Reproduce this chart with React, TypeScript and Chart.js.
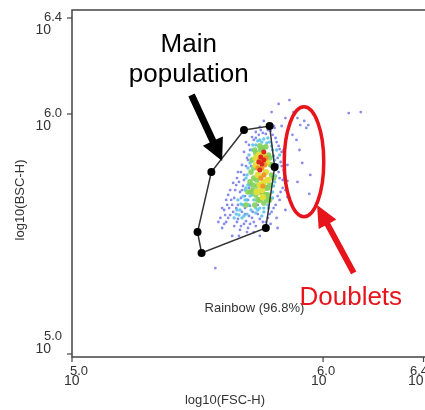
import { useEffect, useRef } from "react";
import { Chart, registerables } from "chart.js";
Chart.register(...registerables);

// axis ranges (log10 units) and ticks
const xRange = [5.0, 6.39];
const yRange = [4.9875, 6.4333];
const xTicks = [5.0, 6.0, 6.4];
const yTicks = [5.0, 6.0, 6.4];
const xTitle = "log10(FSC-H)";
const yTitle = "log10(BSC-H)";

// gate polygon vertices [FSC, BSC]
const gatePts: [number, number][] = [
  [5.685, 5.933], [5.787, 5.95], [5.807, 5.779], [5.772, 5.525],
  [5.516, 5.421], [5.5, 5.508], [5.555, 5.758],
];
const gateLabel = "Rainbow (96.8%)";

// density layers (low -> high density)
const bluePts: [number, number][] = [
  [5.614, 5.55], [5.63, 5.579], [5.606, 5.6], [5.646, 5.533], [5.661, 5.563], [5.654, 5.608],
  [5.634, 5.642], [5.669, 5.517], [5.685, 5.542], [5.701, 5.525], [5.689, 5.583], [5.673, 5.65],
  [5.65, 5.683], [5.665, 5.717], [5.685, 5.746], [5.677, 5.788], [5.697, 5.817], [5.709, 5.85],
  [5.693, 5.883], [5.717, 5.904], [5.732, 5.925], [5.752, 5.933], [5.772, 5.917], [5.791, 5.929],
  [5.811, 5.9], [5.823, 5.867], [5.835, 5.842], [5.831, 5.8], [5.843, 5.767], [5.827, 5.733],
  [5.839, 5.692], [5.819, 5.658], [5.811, 5.621], [5.795, 5.592], [5.78, 5.567], [5.76, 5.55],
  [5.732, 5.533], [5.717, 5.567], [5.74, 5.583], [5.709, 5.617], [5.689, 5.658], [5.705, 5.692],
  [5.681, 5.7], [5.661, 5.758], [5.642, 5.713], [5.622, 5.663], [5.618, 5.621], [5.591, 5.567],
  [5.598, 5.525], [5.724, 5.508], [5.748, 5.492], [5.638, 5.492], [5.803, 5.95], [5.783, 5.958],
  [5.764, 5.971], [5.85, 5.892], [5.846, 5.808], [5.858, 5.721], [5.815, 5.567], [5.713, 5.783],
  [5.74, 5.621],
  [5.61, 5.579], [5.626, 5.608], [5.642, 5.592], [5.657, 5.55], [5.673, 5.533], [5.693, 5.554],
  [5.709, 5.542], [5.677, 5.592], [5.661, 5.621], [5.646, 5.65], [5.63, 5.683], [5.654, 5.704],
  [5.669, 5.675], [5.685, 5.725], [5.673, 5.758], [5.693, 5.783], [5.701, 5.808], [5.685, 5.842],
  [5.705, 5.871], [5.724, 5.892], [5.744, 5.913], [5.76, 5.921], [5.78, 5.933], [5.799, 5.913],
  [5.815, 5.883], [5.827, 5.854], [5.819, 5.817], [5.835, 5.783], [5.823, 5.758], [5.839, 5.725],
  [5.831, 5.675], [5.827, 5.642], [5.803, 5.608], [5.787, 5.583], [5.772, 5.55], [5.748, 5.563],
  [5.724, 5.55], [5.705, 5.575], [5.689, 5.608], [5.72, 5.592], [5.701, 5.642], [5.677, 5.683],
  [5.657, 5.733], [5.638, 5.621], [5.614, 5.642], [5.622, 5.567], [5.606, 5.542], [5.697, 5.508],
  [5.665, 5.492], [5.764, 5.525], [5.791, 5.542], [5.85, 5.683], [5.843, 5.85], [5.807, 5.942],
  [5.748, 5.946], [5.732, 5.9], [5.846, 5.733], [5.858, 5.788], [5.598, 5.608], [5.583, 5.55],
  // sparse events outside the main cloud
  [5.866, 6.058], [5.882, 6.008], [5.898, 5.983], [5.909, 5.954], [5.925, 5.971], [5.933, 5.942],
  [5.941, 5.954], [5.894, 5.892], [5.906, 5.85], [5.917, 5.796], [5.949, 5.746], [5.945, 5.667],
  [5.898, 5.717], [6.102, 6.004], [6.15, 6.008], [5.571, 5.358], [5.823, 6.042], [5.85, 5.983],
  [5.878, 5.913], [5.795, 6.008], [5.835, 5.95], [5.858, 5.654], [5.85, 5.6], [5.819, 5.525],
];
const cyanPts: [number, number][] = [
  [5.681, 5.621], [5.697, 5.642], [5.669, 5.6], [5.654, 5.583], [5.709, 5.658], [5.724, 5.642],
  [5.748, 5.608], [5.764, 5.592], [5.78, 5.621], [5.799, 5.65], [5.803, 5.7], [5.811, 5.742],
  [5.807, 5.808], [5.799, 5.85], [5.787, 5.883], [5.764, 5.896], [5.74, 5.888], [5.72, 5.871],
  [5.705, 5.829], [5.701, 5.775], [5.693, 5.733], [5.709, 5.704], [5.689, 5.683], [5.732, 5.588],
  [5.713, 5.6], [5.677, 5.567], [5.661, 5.642], [5.819, 5.788], [5.827, 5.829], [5.78, 5.9],
  [5.756, 5.575], [5.697, 5.583],
  [5.689, 5.642], [5.673, 5.625], [5.657, 5.6], [5.646, 5.567], [5.685, 5.575], [5.705, 5.621],
  [5.732, 5.608], [5.717, 5.663], [5.701, 5.704], [5.697, 5.746], [5.709, 5.796], [5.717, 5.85],
  [5.732, 5.871], [5.756, 5.883], [5.776, 5.879], [5.795, 5.867], [5.803, 5.825], [5.811, 5.767],
  [5.807, 5.717], [5.799, 5.675], [5.783, 5.608], [5.764, 5.608], [5.74, 5.6], [5.681, 5.658],
  [5.665, 5.579], [5.693, 5.692], [5.815, 5.85], [5.748, 5.892],
];
const greenPts: [number, number][] = [
  [5.72, 5.683], [5.732, 5.663], [5.748, 5.642], [5.764, 5.629], [5.78, 5.663], [5.787, 5.704],
  [5.795, 5.746], [5.791, 5.788], [5.783, 5.829], [5.772, 5.863], [5.748, 5.867], [5.728, 5.85],
  [5.717, 5.808], [5.713, 5.758], [5.709, 5.717], [5.724, 5.733], [5.736, 5.7], [5.76, 5.671],
  [5.772, 5.692], [5.701, 5.675], [5.693, 5.621], [5.728, 5.621], [5.752, 5.85], [5.787, 5.642],
  [5.724, 5.775], [5.736, 5.725], [5.748, 5.675], [5.772, 5.663], [5.78, 5.692], [5.795, 5.788],
  [5.787, 5.817], [5.76, 5.858], [5.732, 5.838], [5.72, 5.704], [5.713, 5.675], [5.776, 5.642],
  [5.803, 5.733], [5.74, 5.642],
];
const yellowPts: [number, number][] = [
  [5.732, 5.788], [5.74, 5.746], [5.748, 5.704], [5.764, 5.717], [5.772, 5.758], [5.776, 5.8],
  [5.764, 5.829], [5.744, 5.829], [5.732, 5.817], [5.756, 5.683], [5.736, 5.675], [5.76, 5.654],
  [5.78, 5.725],
];
const orangePts: [number, number][] = [
  [5.748, 5.808], [5.756, 5.775], [5.768, 5.788], [5.752, 5.733], [5.764, 5.746], [5.74, 5.775],
  [5.76, 5.7], [5.772, 5.817],
];
const redPts: [number, number][] = [
  [5.752, 5.821], [5.764, 5.808], [5.744, 5.8], [5.756, 5.792], [5.764, 5.842], [5.748, 5.767],
];

// annotation anchors in data units
const mainText = ["Main", "population"];
const mainTextAt = [5.465, 6.258, 6.133]; // x center, baseline line1, baseline line2
const blackArrow = [5.476, 6.079, 5.598, 5.804]; // tail x,y -> tip x,y
const doubletText = "Doublets";
const doubletTextAt = [5.906, 5.204];
const redArrow = [6.122, 5.338, 5.976, 5.621];
const doubletEllipse = [5.924, 5.801, 0.0787, 0.229]; // cx, cy, rx, ry
const gateLabelAt = [5.528, 5.175];

const toXY = (pts: [number, number][]) => pts.map(([x, y]) => ({ x, y }));

function drawArrow(ctx: CanvasRenderingContext2D, x1: number, y1: number, x2: number, y2: number, sw: number, hw: number, hl: number, color: string) {
  const dx = x2 - x1, dy = y2 - y1;
  const len = Math.hypot(dx, dy);
  const ux = dx / len, uy = dy / len;
  const nx = -uy, ny = ux;
  const bx = x2 - ux * hl, by = y2 - uy * hl;
  ctx.save();
  ctx.fillStyle = color;
  ctx.beginPath();
  ctx.moveTo(x1 + nx * sw / 2, y1 + ny * sw / 2);
  ctx.lineTo(bx + nx * sw / 2, by + ny * sw / 2);
  ctx.lineTo(bx + nx * hw / 2, by + ny * hw / 2);
  ctx.lineTo(x2, y2);
  ctx.lineTo(bx - nx * hw / 2, by - ny * hw / 2);
  ctx.lineTo(bx - nx * sw / 2, by - ny * sw / 2);
  ctx.lineTo(x1 - nx * sw / 2, y1 - ny * sw / 2);
  ctx.closePath();
  ctx.fill();
  ctx.restore();
}

const FONT = "'Liberation Sans', Arial, sans-serif";

const overlay = {
  id: "overlay",
  beforeDatasetsDraw(chart: any) {
    const { ctx, chartArea: a, scales } = chart;
    const W = chart.width;
    ctx.save();
    ctx.strokeStyle = "#444";
    ctx.lineWidth = 1.5;
    ctx.beginPath();
    ctx.moveTo(W, a.top); ctx.lineTo(a.left, a.top); ctx.lineTo(a.left, a.bottom); ctx.lineTo(W, a.bottom);
    ctx.stroke();
    ctx.lineWidth = 1.2;
    ctx.fillStyle = "#333";
    // y ticks
    yTicks.forEach((v) => {
      const py = scales.y.getPixelForValue(v);
      ctx.beginPath(); ctx.moveTo(a.left - 5, py); ctx.lineTo(a.left, py); ctx.stroke();
      const top = Math.max(a.top + 1, Math.min(a.bottom - 27, py - 7));
      ctx.textAlign = "right"; ctx.textBaseline = "alphabetic";
      ctx.font = "13px " + FONT;
      ctx.fillText(v.toFixed(1), 62, top + 10);
      ctx.font = "14px " + FONT;
      ctx.fillText("10", 51, top + 23);
    });
    // x ticks
    xTicks.forEach((v, i) => {
      const px = scales.x.getPixelForValue(v);
      ctx.beginPath(); ctx.moveTo(px, a.bottom); ctx.lineTo(px, a.bottom + 5); ctx.stroke();
      let left = i === 0 ? px - 8 : px - 12;
      let off = 6;
      if (left > 405) { left = 408; off = 2; }
      ctx.textAlign = "left"; ctx.textBaseline = "alphabetic";
      ctx.font = "13px " + FONT;
      ctx.fillText(v.toFixed(1), left + off, a.bottom + 18);
      ctx.font = "14px " + FONT;
      ctx.fillText("10", left, a.bottom + 28);
    });
    // titles
    ctx.font = "13px " + FONT;
    ctx.textAlign = "center";
    ctx.fillText(xTitle, (a.left + 378) / 2, 404);
    ctx.save();
    ctx.translate(20, 200);
    ctx.rotate(-Math.PI / 2);
    ctx.textBaseline = "middle";
    ctx.fillText(yTitle, 0, 0);
    ctx.restore();
    ctx.restore();
  },
  afterDatasetsDraw(chart: any) {
    const { ctx, scales } = chart;
    const X = (v: number) => scales.x.getPixelForValue(v);
    const Y = (v: number) => scales.y.getPixelForValue(v);
    ctx.save();
    // gate label
    ctx.fillStyle = "#333";
    ctx.font = "13px " + FONT;
    ctx.textAlign = "left";
    ctx.fillText(gateLabel, X(gateLabelAt[0]), Y(gateLabelAt[1]));
    // main population
    ctx.fillStyle = "#000";
    ctx.font = "26px " + FONT;
    ctx.textAlign = "center";
    ctx.fillText(mainText[0], X(mainTextAt[0]), Y(mainTextAt[1]));
    ctx.fillText(mainText[1], X(mainTextAt[0]), Y(mainTextAt[2]));
    drawArrow(ctx, X(blackArrow[0]), Y(blackArrow[1]), X(blackArrow[2]), Y(blackArrow[3]), 7, 22, 22, "#000");
    // doublets
    const red = "#e8141b";
    ctx.strokeStyle = red;
    ctx.lineWidth = 3.5;
    ctx.beginPath();
    const cx = X(doubletEllipse[0]), cy = Y(doubletEllipse[1]);
    const rx = X(doubletEllipse[0] + doubletEllipse[2]) - cx;
    const ry = cy - Y(doubletEllipse[1] + doubletEllipse[3]);
    ctx.ellipse(cx, cy, rx, ry, 0, 0, Math.PI * 2);
    ctx.stroke();
    drawArrow(ctx, X(redArrow[0]), Y(redArrow[1]), X(redArrow[2]), Y(redArrow[3]), 6, 20, 22, red);
    ctx.fillStyle = red;
    ctx.textAlign = "left";
    ctx.font = "26px " + FONT;
    ctx.fillText(doubletText, X(doubletTextAt[0]), Y(doubletTextAt[1]));
    ctx.restore();
  },
};

export default function App() {
  const ref = useRef<HTMLCanvasElement>(null);
  useEffect(() => {
    document.body.style.margin = "0";
    const layer = (pts: [number, number][], color: string, r: number, order: number) => ({
      data: toXY(pts),
      backgroundColor: color,
      borderWidth: 0,
      pointRadius: r,
      order,
    });
    const chart = new Chart(ref.current!, {
      type: "scatter",
      data: {
        datasets: [
          {
            data: toXY([...gatePts, gatePts[0]]),
            showLine: true,
            borderColor: "#333",
            borderWidth: 1.5,
            backgroundColor: "#000",
            pointBackgroundColor: "#000",
            pointBorderWidth: 0,
            pointRadius: [...gatePts.map(() => 4), 0],
            order: 0,
          } as any,
          layer(redPts, "rgb(222,40,30)", 2.5, 1),
          layer(orangePts, "rgb(240,150,40)", 2.6, 2),
          layer(yellowPts, "rgb(228,222,60)", 3.2, 3),
          layer(greenPts, "rgba(130,210,90,0.9)", 2.8, 4),
          layer(cyanPts, "rgba(80,190,230,0.85)", 1.7, 5),
          layer(bluePts, "rgba(105,110,230,0.8)", 1.4, 6),
        ],
      },
      options: {
        responsive: false,
        animation: false,
        layout: { padding: { left: 72, top: 10, right: 0, bottom: 53 } },
        scales: {
          x: { type: "linear", min: xRange[0], max: xRange[1], display: false },
          y: { type: "linear", min: yRange[0], max: yRange[1], display: false },
        },
        plugins: { legend: { display: false }, tooltip: { enabled: false } },
      },
      plugins: [overlay],
    });
    return () => chart.destroy();
  }, []);
  return <canvas ref={ref} width={425} height={410} style={{ display: "block" }} />;
}
